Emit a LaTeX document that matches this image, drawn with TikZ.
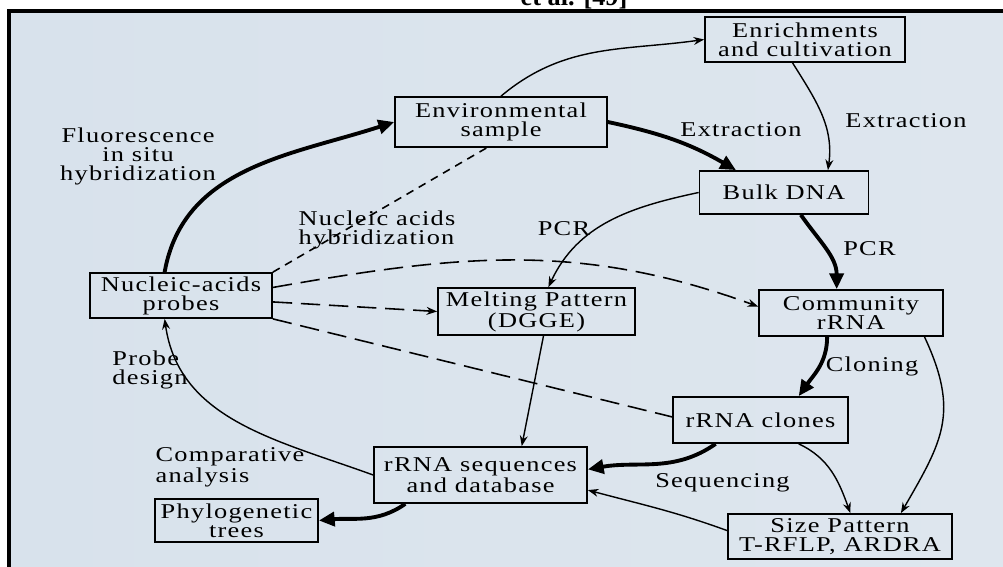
\documentclass[tikz,border=0pt]{standalone}
\usepackage{fontspec}
\setmainfont[FakeStretch=1.25,LetterSpace=6]{Liberation Serif}
\newfontfamily\capfont{Liberation Serif}
\usetikzlibrary{arrows.meta}

\definecolor{bgside}{RGB}{216,226,236}
\definecolor{bgmid}{RGB}{241,244,247}
\definecolor{bgright}{RGB}{222,230,238}

\tikzset{
  box/.style={draw, line width=1pt, align=center, inner sep=1pt,
    font=\fontsize{12}{10.8}\selectfont},
  lbl/.style={align=center, inner sep=1pt, font=\fontsize{12}{10.8}\selectfont},
  thinarr/.style={-{Stealth[length=6pt,width=4.5pt]}, line width=0.8pt},
  thickarr/.style={-{Triangle[length=9pt,width=8pt]}, line width=2.2pt},
  shortdash/.style={line width=0.9pt, dash pattern=on 4.5pt off 3.5pt},
  longdash/.style={line width=0.9pt, dash pattern=on 11pt off 5pt},
}

\begin{document}
\begin{tikzpicture}[x=0.02cm, y=0.02cm]
    \useasboundingbox (0,0) rectangle (1003,-567);
    \clip (0,0) rectangle (1003,-567);

    % background and frame
    \shade[left color=bgside, middle color=bgmid, right color=bgright] (9,-11) rectangle (1003,-567);
    \draw[line width=2.3pt] (9,-567) -- (9,-11) -- (1003,-11);
    \node[font=\capfont\bfseries\fontsize{15}{15}\selectfont, anchor=base] (cap) at (574,-6) {et al. [49]};

    % boxes
    \node[box, minimum width=4cm, minimum height=0.9cm] (enrich) at (805,-39.5) {Enrichments\\and cultivation};
    \node[box, minimum width=4.24cm, minimum height=1cm] (env) at (501,-122) {Environmental\\sample};
    \node[box, minimum width=3.38cm, minimum height=0.86cm] (bulk) at (784,-192.5) {Bulk DNA};
    \node[box, minimum width=3.64cm, minimum height=0.9cm] (probes) at (181,-295.5) {Nucleic-acids\\probes};
    \node[box, minimum width=3.94cm, minimum height=0.94cm] (melt) at (536.5,-311.5) {Melting Pattern\\(DGGE)};
    \node[box, minimum width=3.68cm, minimum height=0.92cm] (comm) at (851,-313) {Community\\rRNA};
    \node[box, minimum width=3.5cm, minimum height=0.92cm] (clones) at (760.5,-420) {rRNA clones};
    \node[box, minimum width=4.26cm, minimum height=1.12cm] (rseq) at (480.5,-475) {rRNA sequences\\and database};
    \node[box, minimum width=3.26cm, minimum height=0.86cm] (phylo) at (236.5,-520.5) {Phylogenetic\\trees};
    \node[box, minimum width=4.48cm, minimum height=0.9cm] (size) at (840,-536.5) {Size Pattern\\T-RFLP, ARDRA};

    % labels
    \node[lbl] (fish) at (138,-156) {Fluorescence\\in situ\\hybridization};
    \node[lbl, align=left] (nah) at (377,-230) {Nucleic acids\\hybridization};
    \node[lbl] (ext1) at (741,-129.5) {Extraction};
    \node[lbl] (ext2) at (906,-120.5) {Extraction};
    \node[lbl] (pcr1) at (564,-228.5) {PCR};
    \node[lbl] (pcr2) at (869.5,-248.5) {PCR};
    \node[lbl] (clon) at (872,-366.5) {Cloning};
    \node[lbl] (seqg) at (722.5,-482.5) {Sequencing};
    \node[lbl, align=left] (pdes) at (150,-370) {Probe\\design};
    \node[lbl, align=left] (comp) at (230,-467.5) {Comparative\\analysis};

    % solid connectors
    \draw[thinarr] (env.north) to[out=40, in=188] (enrich.west);
    \draw[thickarr] (env.east) to[out=-12, in=150] (bulk.155);
    \draw[thinarr] (enrich.242) to[out=-58, in=82] (bulk.27);
    \draw[thinarr] (bulk.west) to[out=192, in=65] (melt.64);
    \draw[thickarr] (bulk.-53) to[out=-55, in=90] (comm.121);
    \draw[thickarr] (probes.125) to[out=80, in=198] (env.west);
    \draw[thinarr] (melt.-74) -- (rseq.35);
    \draw[thinarr] (rseq.west) to[out=160, in=-82] (probes.-125);
    \draw[thickarr] (rseq.201) to[out=-145, in=5] (phylo.east);
    \draw[thickarr] (comm.-135) to[out=-90, in=55] (clones.32);
    \draw[thinarr] (comm.-18) to[out=-65, in=60, looseness=1.2] (size.21.5);
    \draw[thickarr] (clones.-152) to[out=-145, in=10] (rseq.3);
    \draw[thinarr] (clones.-32) to[out=-25, in=110] (size.66);
    \draw[thinarr] (size.177) to[out=160, in=-15] (rseq.-8);

    % dashed connectors
    \draw[shortdash] (probes.north east) -- (env.241);
    \draw[longdash, -{Stealth[length=6pt,width=4.5pt]}] (probes.5) to[out=10, in=160] (comm.176);
    \draw[longdash, -{Stealth[length=6pt,width=4.5pt]}] (probes.-4) -- (melt.west);
    \draw[longdash] (probes.south east) -- (clones.178);
\end{tikzpicture}
\end{document}
